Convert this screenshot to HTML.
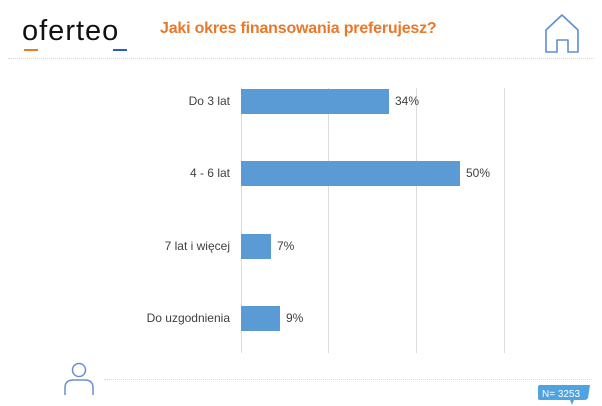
<!DOCTYPE html>
<html><head><style>
body{margin:0;width:602px;height:406px;background:#fff;position:relative;overflow:hidden;font-family:"Liberation Sans",sans-serif}
.a{position:absolute}
.g{position:absolute;top:88px;height:265px;width:1px;background:#dcdcdc}
.bar{position:absolute;left:241px;height:25px;background:#5b9bd5}
.lab{position:absolute;right:372px;font-size:12px;color:#404040;text-align:right}
.v{position:absolute;font-size:12px;color:#404040}
</style></head><body>
<div class="a" style="left:22px;top:15px;font-size:29px;color:#111;letter-spacing:1px">oferteo</div>
<div class="a" style="left:24px;top:49px;width:14px;height:2px;background:#e87a2a"></div>
<div class="a" style="left:113px;top:49px;width:14px;height:2px;background:#2a5cc8"></div>
<div class="a" style="left:160px;top:20px;font-size:16px;font-weight:bold;color:#e8792b;letter-spacing:-0.2px">Jaki okres finansowania preferujesz?</div>
<svg class="a" style="left:543px;top:13px" width="40" height="42"><path d="M3 17 L19 2 L35 17 L35 39 L25 39 L25 27 L14 27 L14 39 L3 39 Z" fill="none" stroke="#5b8fd5" stroke-width="1.6" stroke-linejoin="round"/></svg>
<div class="a" style="left:8px;top:58px;width:586px;border-top:1px dotted #d8d8d8"></div>
<div class="g" style="left:241px"></div><div class="g" style="left:328px"></div><div class="g" style="left:416px"></div><div class="g" style="left:504px"></div>
<div class="bar" style="top:89px;width:148px"></div>
<div class="bar" style="top:161px;width:219px"></div>
<div class="bar" style="top:234px;width:30px"></div>
<div class="bar" style="top:306px;width:39px"></div>
<div class="lab" style="top:94px">Do 3 lat</div>
<div class="lab" style="top:166px">4 - 6 lat</div>
<div class="lab" style="top:239px">7 lat i więcej</div>
<div class="lab" style="top:311px">Do uzgodnienia</div>
<div class="v" style="left:395px;top:94px">34%</div>
<div class="v" style="left:466px;top:166px">50%</div>
<div class="v" style="left:277px;top:239px">7%</div>
<div class="v" style="left:286px;top:311px">9%</div>
<svg class="a" style="left:62px;top:362px" width="34" height="34"><circle cx="17" cy="8" r="6.5" fill="none" stroke="#6a8fd0" stroke-width="1.5"/><path d="M3 33 L3 26 Q3 18 11 18 L23 18 Q31 18 31 26 L31 33" fill="none" stroke="#6a8fd0" stroke-width="1.5"/></svg>
<div class="a" style="left:104px;top:379px;width:488px;border-top:1px dotted #d8d8d8"></div>
<svg class="a" style="left:536px;top:384px" width="56" height="22"><path d="M4 1 L54 1 L52 14 Q51 16 48 16 L38 16 L36 21 L34 16 L4 16 Q2 16 2 14 L2 3 Q2 1 4 1Z" fill="#4fa3e0"/><text x="6" y="13" font-size="10" fill="#fff" font-family="Liberation Sans,sans-serif">N= 3253</text></svg>
</body></html>
